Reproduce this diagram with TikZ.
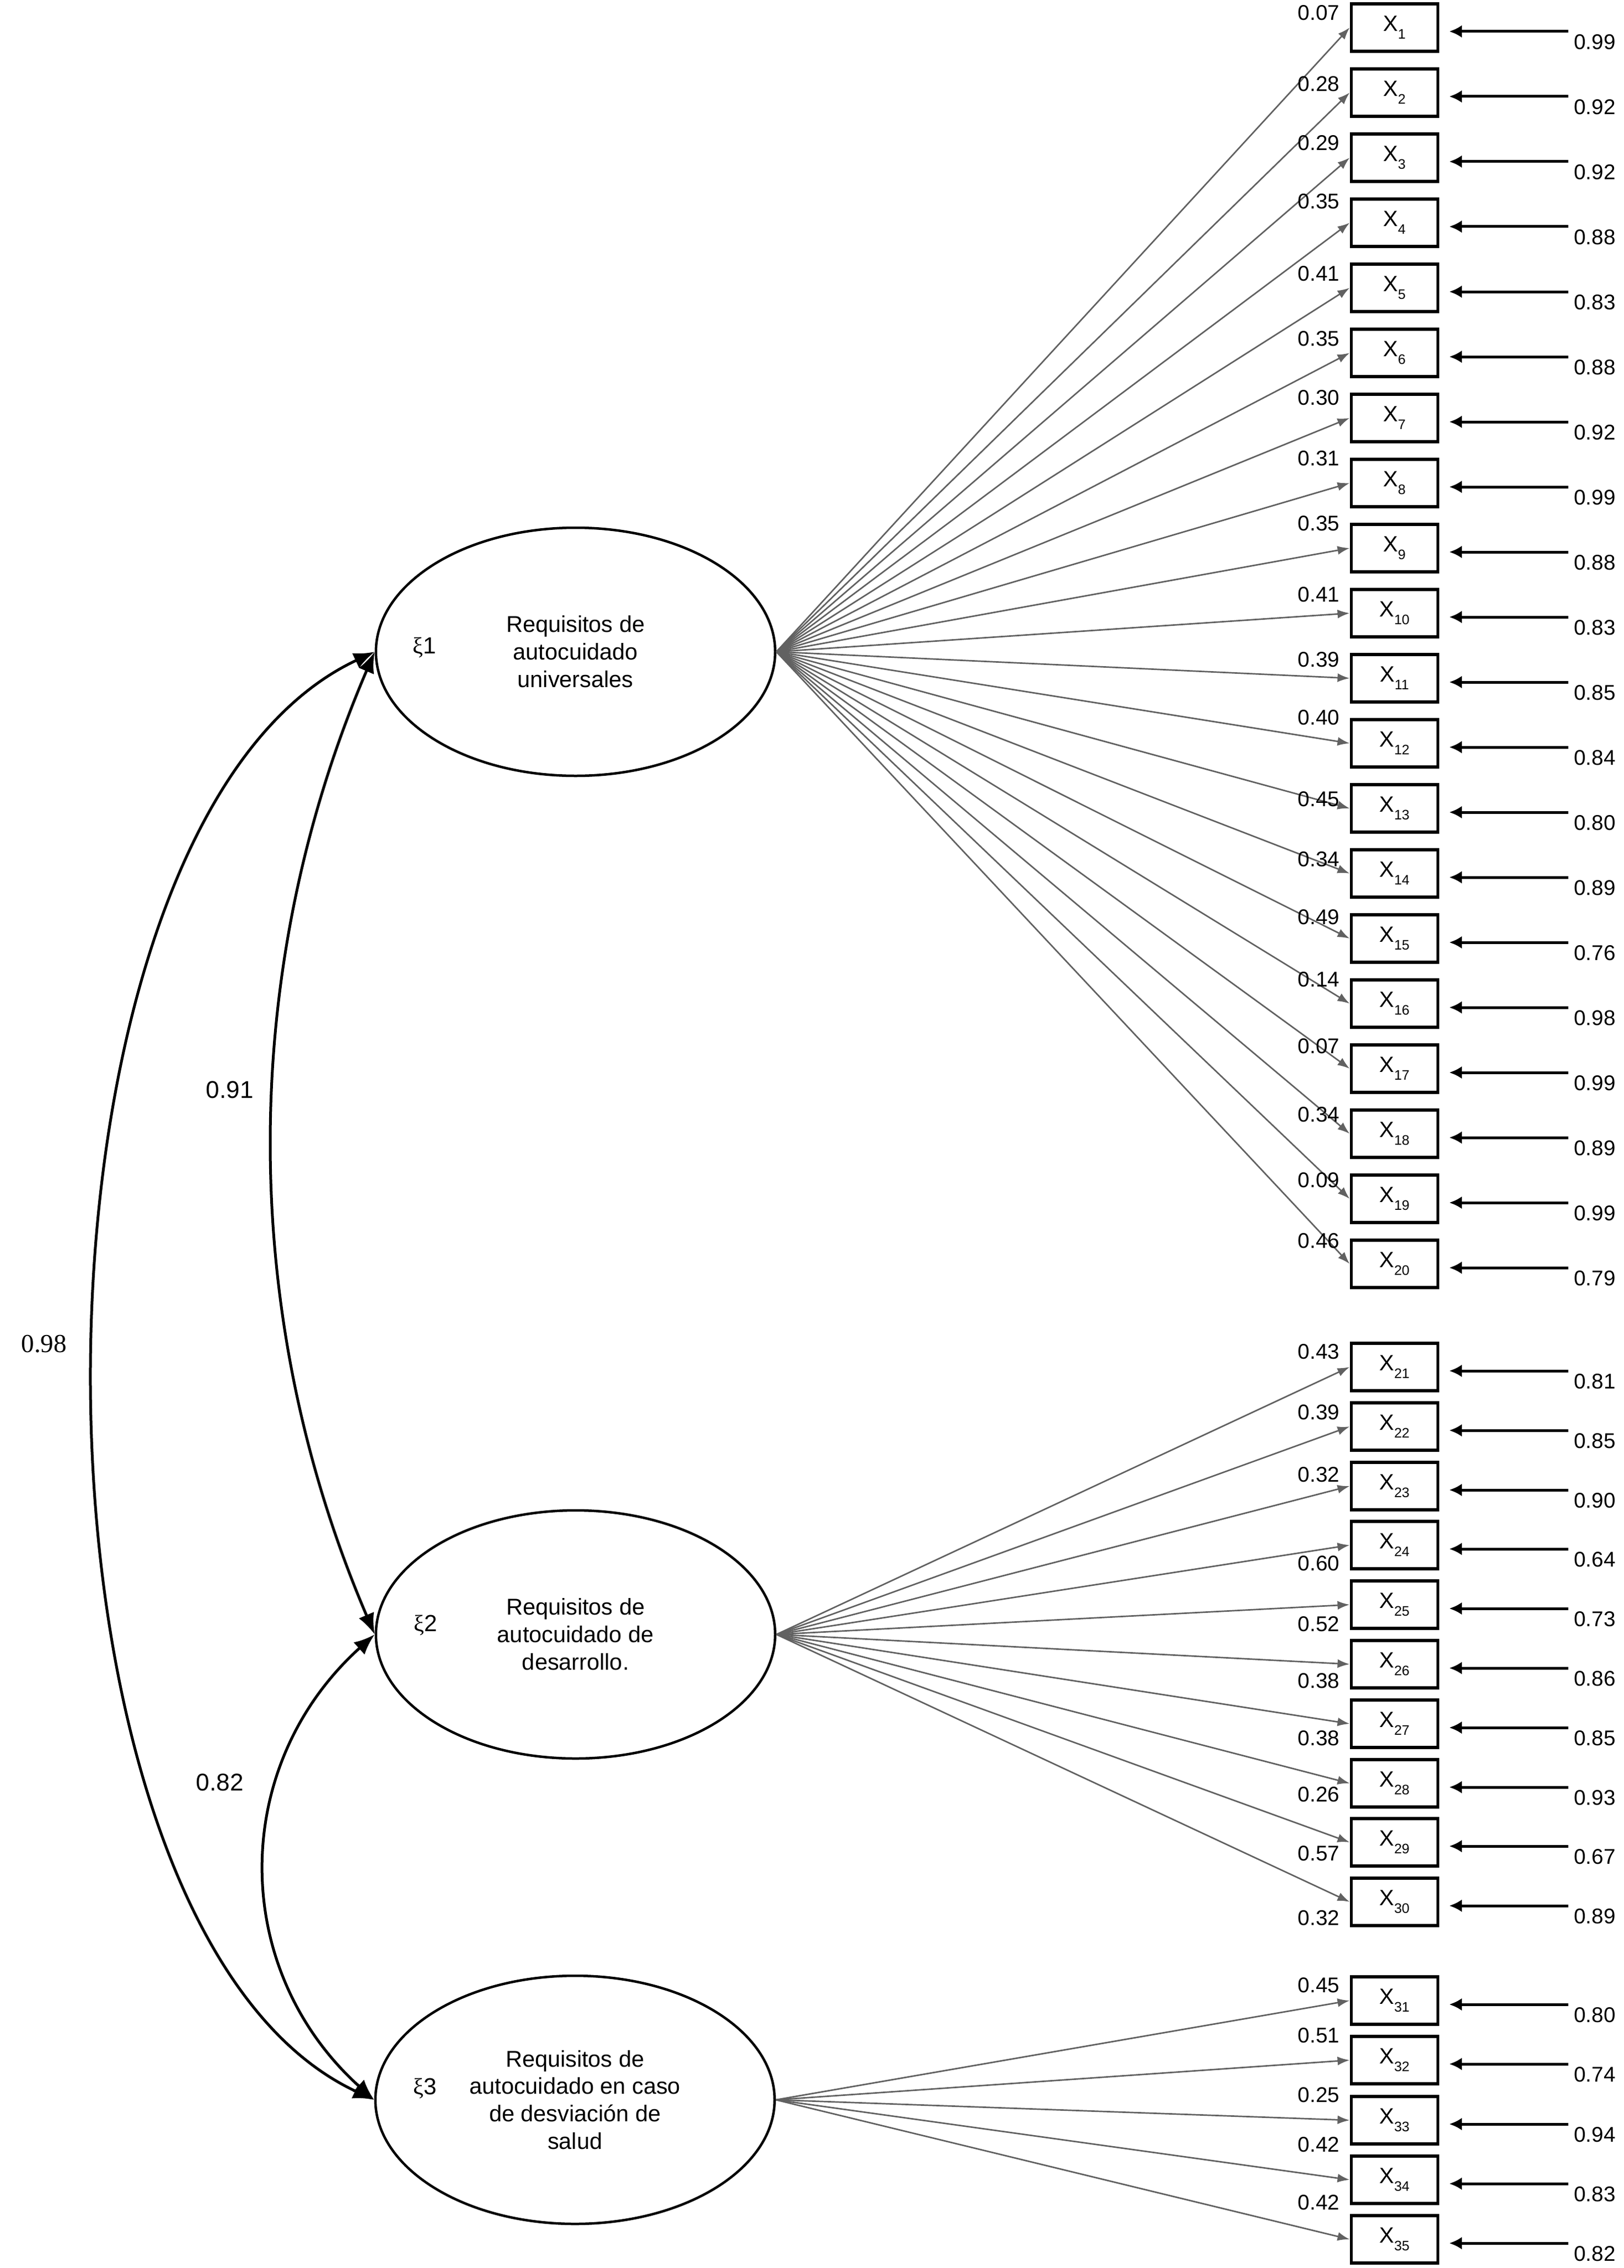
\documentclass[tikz,border=0pt]{standalone}
\usepackage{fontspec}
\setmainfont{Liberation Sans}
\newfontfamily\serifnum{Liberation Serif}
\usetikzlibrary{arrows.meta,shapes.geometric}
\definecolor{loadgray}{gray}{0.38}
\newcommand{\xsub}[1]{X\raisebox{-0.35em}{\fontsize{7.1}{8}\selectfont#1}}
\tikzset{
	latent/.style={ellipse,draw=black,line width=0.45mm,minimum width=72.4mm,minimum height=45mm,inner sep=0pt,align=center,font=\fontsize{11.8}{14.2}\selectfont},
	obs/.style={rectangle,draw=black,line width=0.55mm,minimum width=15.7mm,minimum height=8.6mm,inner sep=0pt,font=\fontsize{11.4}{13}\selectfont},
	load/.style={draw=loadgray,line width=0.27mm,-{Latex[length=2.2mm,width=1.6mm]}},
	err/.style={draw=black,line width=0.5mm,-{Latex[length=2.3mm,width=2.3mm]},shorten >=1.8mm},
	corr/.style={draw=black,line width=0.5mm,{Latex[length=3.8mm,width=3mm]}-{Latex[length=3.8mm,width=3mm]}},
	num/.style={inner sep=0pt,font=\fontsize{11}{13}\selectfont},
	corrlab/.style={inner sep=0pt,font=\fontsize{12.5}{14}\selectfont},
	xilab/.style={inner sep=0pt,font=\fontsize{12}{14}\selectfont}
}
\begin{document}
\begin{tikzpicture}[x=0.1mm,y=-0.1mm]
	\fill[white] (0,0) rectangle (2917,4113);
	\node[latent] (f1) at (1016,1182) {Requisitos de\\autocuidado\\universales};
	\node[latent] (f2) at (1016,2964) {Requisitos de\\autocuidado de\\desarrollo.};
	\node[latent] (f3) at (1015,3808) {Requisitos de\\autocuidado en caso\\de desviación de\\salud};
	\node[xilab] (xi1) at ([xshift=9mm,yshift=0.8mm]f1.west) {{\serifnum ξ}1};
	\node[xilab] (xi2) at ([xshift=9.2mm,yshift=1.7mm]f2.west) {{\serifnum ξ}2};
	\node[xilab] (xi3) at ([xshift=9.2mm,yshift=2.1mm]f3.west) {{\serifnum ξ}3};
	\foreach \i/\yy/\f/\ld/\dy/\er in {1/50/f1/0.07/-27/0.99, 2/168/f1/0.28/-16/0.92, 3/286/f1/0.29/-27/0.92, 4/404/f1/0.35/-39/0.88, 5/522/f1/0.41/-26/0.83,
		6/640/f1/0.35/-26/0.88, 7/758/f1/0.30/-37/0.92, 8/876/f1/0.31/-45/0.99, 9/994/f1/0.35/-45/0.88, 10/1112/f1/0.41/-34/0.83,
		11/1230/f1/0.39/-34/0.85, 12/1348/f1/0.40/-47/0.84, 13/1466/f1/0.45/-17/0.80, 14/1584/f1/0.34/-26/0.89, 15/1702/f1/0.49/-39/0.76,
		16/1820/f1/0.14/-44/0.98, 17/1938/f1/0.07/-41/0.99, 18/2056/f1/0.34/-35/0.89, 19/2174/f1/0.09/-34/0.99, 20/2292/f1/0.46/-42/0.79,
		21/2479/f2/0.43/-28/0.81, 22/2587/f2/0.39/-26/0.85, 23/2695/f2/0.32/-21/0.90, 24/2802/f2/0.60/33/0.64, 25/2910/f2/0.52/35/0.73,
		26/3018/f2/0.38/30/0.86, 27/3126/f2/0.38/26/0.85, 28/3234/f2/0.26/20/0.93, 29/3341/f2/0.57/20/0.67, 30/3449/f2/0.32/29/0.89,
		31/3628/f3/0.45/-28/0.80, 32/3736/f3/0.51/-45/0.74, 33/3845/f3/0.25/-46/0.94, 34/3953/f3/0.42/-64/0.83, 35/4061/f3/0.42/-67/0.82}
	{
		\node[obs] (x\i) at (2501,\yy) {\xsub{\i}};
		\coordinate (e\i) at (2816,{\yy+7});
		\draw[load] (\f.east) -- (x\i.west);
		\draw[err] (e\i) -- (e\i -| x\i.east);
		\node[num,anchor=east] (l\i) at (2402,{\yy+(\dy)}) {\ld};
		\node[num,anchor=west] (v\i) at (2826,{\yy+26}) {\er};
	}
	\draw[corr] (f1.west) .. controls +(-676,315) and +(-676,-315) .. (f3.west);
	\draw[corr] (f1.west) .. controls +(-248,578) and +(-248,-578) .. (f2.west);
	\draw[corr] (f2.west) .. controls +(-263,237) and +(-263,-237) .. (f3.west);
	\node[corrlab] (r12) at (389,1976) {0.91};
	\node[corrlab] (r23) at (371,3232) {0.82};
	\node[corrlab,font=\serifnum\fontsize{13.4}{15}\selectfont] (r13) at (52,2437) {0.98};
\end{tikzpicture}
\end{document}
